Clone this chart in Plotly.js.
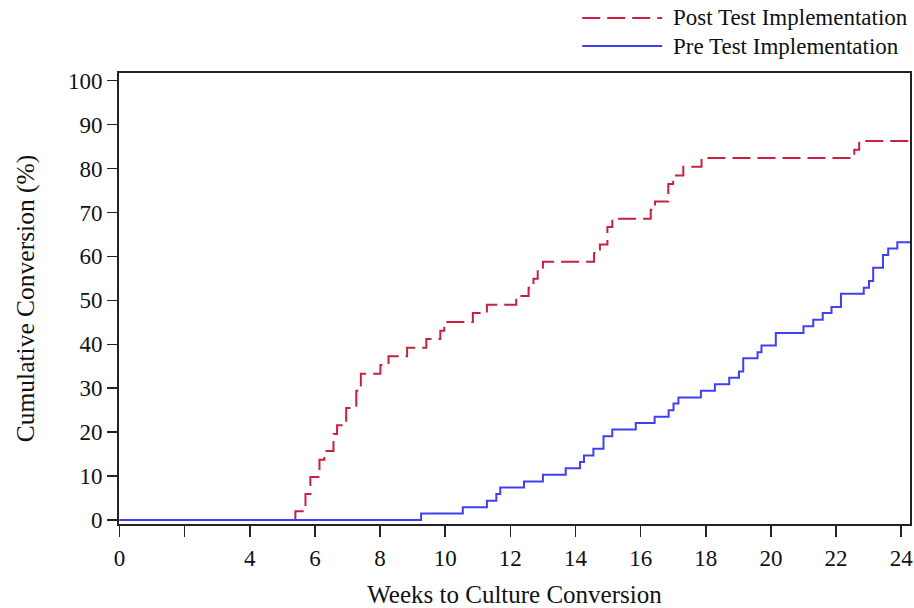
<!DOCTYPE html>
<html>
<head>
<meta charset="utf-8">
<script src="https://cdn.plot.ly/plotly-3.0.1.min.js"></script>
<style>html,body{margin:0;padding:0;background:#fff;}#chart{width:914px;height:608px;}</style>
</head>
<body>
<div id="chart"></div>
<script>
// Post Test Implementation: weeks at which cumulative conversion steps up, and the level (%) after each step
const postWeeks = [0, 5.40, 5.71, 5.86, 6.14, 6.29, 6.57, 6.68, 6.96, 7.27, 7.41, 8.01, 8.26, 8.83, 9.42, 9.85, 9.97, 10.85, 11.28, 12.18, 12.56, 12.71, 12.84, 13.00, 14.57, 14.75, 14.98, 15.13, 16.31, 16.44, 16.85, 17.00, 17.31, 17.87, 22.56, 22.71, 24.27];
const postPct   = [0, 2.0, 5.9, 9.8, 13.7, 15.7, 19.6, 21.6, 25.5, 29.4, 33.3, 35.3, 37.3, 39.2, 41.2, 43.1, 45.1, 47.1, 49.0, 51.0, 52.9, 54.9, 56.9, 58.8, 60.8, 62.7, 66.7, 68.6, 70.6, 72.5, 76.5, 78.4, 80.4, 82.4, 84.3, 86.3, 86.3];

// Pre Test Implementation
const preWeeks = [0, 9.26, 10.54, 11.28, 11.57, 11.69, 12.42, 13.00, 13.70, 14.14, 14.26, 14.55, 14.86, 15.13, 15.85, 16.43, 16.86, 17.01, 17.16, 17.85, 18.28, 18.72, 19.02, 19.15, 19.59, 19.71, 20.15, 21.00, 21.30, 21.59, 21.86, 22.15, 22.85, 23.01, 23.14, 23.44, 23.60, 23.88, 24.27];
const prePct   = [0, 1.5, 2.9, 4.4, 5.9, 7.4, 8.8, 10.3, 11.8, 13.2, 14.7, 16.2, 19.1, 20.6, 22.1, 23.5, 25.0, 26.5, 27.9, 29.4, 30.9, 32.4, 33.8, 36.8, 38.2, 39.7, 42.6, 44.1, 45.6, 47.1, 48.5, 51.5, 52.9, 54.4, 57.4, 60.3, 61.8, 63.2, 63.2];

const xTickVals = [0, 2, 4, 6, 8, 10, 12, 14, 16, 18, 20, 22, 24];
const xTickText = ["0", "", "4", "6", "8", "10", "12", "14", "16", "18", "20", "22", "24"];
const yTickVals = [0, 10, 20, 30, 40, 50, 60, 70, 80, 90, 100];

const seriesNames = ["Post Test Implementation", "Pre Test Implementation"];
const RED = "#c8203e";
const BLUE = "#4040f2";
const FONT = '"Liberation Serif", "Times New Roman", "DejaVu Serif", serif';

const traces = [
  {x: postWeeks, y: postPct, name: seriesNames[0], type: "scatter", mode: "lines",
   line: {shape: "hv", color: RED, width: 2, dash: "18px,7px"}},
  {x: preWeeks, y: prePct, name: seriesNames[1], type: "scatter", mode: "lines",
   line: {shape: "hv", color: BLUE, width: 2}}
];

// plot area in px: left 118.5, right 910, top 73, bottom 524
const L = 118.5, R = 910, T = 73, B = 524;
const px2x = p => (p - L) / (R - L);
const px2y = p => (B - p) / (B - T);

const layout = {
  width: 914, height: 608,
  margin: {l: L, r: 914 - R, t: T, b: 608 - B, pad: 0},
  paper_bgcolor: "#fff", plot_bgcolor: "#fff",
  font: {family: FONT, size: 23, color: "#111"},
  showlegend: false,
  xaxis: {
    range: [-0.015, 24.27], tickmode: "array", tickvals: xTickVals, ticktext: xTickText,
    ticks: "outside", ticklen: 11, tickwidth: 1.5, tickcolor: "#222",
    showline: true, linecolor: "#222", linewidth: 2, mirror: true,
    showgrid: false, zeroline: false, ticklabelstandoff: 1,
    tickfont: {family: FONT, size: 23, color: "#111"},
    title: {text: "Weeks to Culture Conversion", font: {family: FONT, size: 25, color: "#111"}, standoff: 33}
  },
  yaxis: {
    range: [-0.9, 101.75], tickmode: "array", tickvals: yTickVals,
    ticks: "outside", ticklen: 10, tickwidth: 1.5, tickcolor: "#222",
    showline: true, linecolor: "#222", linewidth: 2, mirror: true,
    showgrid: false, zeroline: false,
    tickfont: {family: FONT, size: 23, color: "#111"},
    title: {text: "Cumulative Conversion (%)", font: {family: FONT, size: 25.5, color: "#111"}, standoff: 26}
  },
  shapes: [
    {type: "line", xref: "paper", yref: "paper", x0: px2x(582), x1: px2x(662), y0: px2y(18), y1: px2y(18),
     line: {color: RED, width: 2, dash: "18px,7px"}},
    {type: "line", xref: "paper", yref: "paper", x0: px2x(582), x1: px2x(662), y0: px2y(46), y1: px2y(46),
     line: {color: BLUE, width: 2}}
  ],
  annotations: [
    {xref: "paper", yref: "paper", x: px2x(671), y: px2y(18), xanchor: "left", yanchor: "middle",
     text: seriesNames[0], showarrow: false, font: {family: FONT, size: 23, color: "#111"}},
    {xref: "paper", yref: "paper", x: px2x(671), y: px2y(46), xanchor: "left", yanchor: "middle",
     text: seriesNames[1], showarrow: false, font: {family: FONT, size: 23, color: "#111"}}
  ]
};

Plotly.newPlot("chart", traces, layout, {displayModeBar: false, staticPlot: true});
</script>
</body>
</html>
